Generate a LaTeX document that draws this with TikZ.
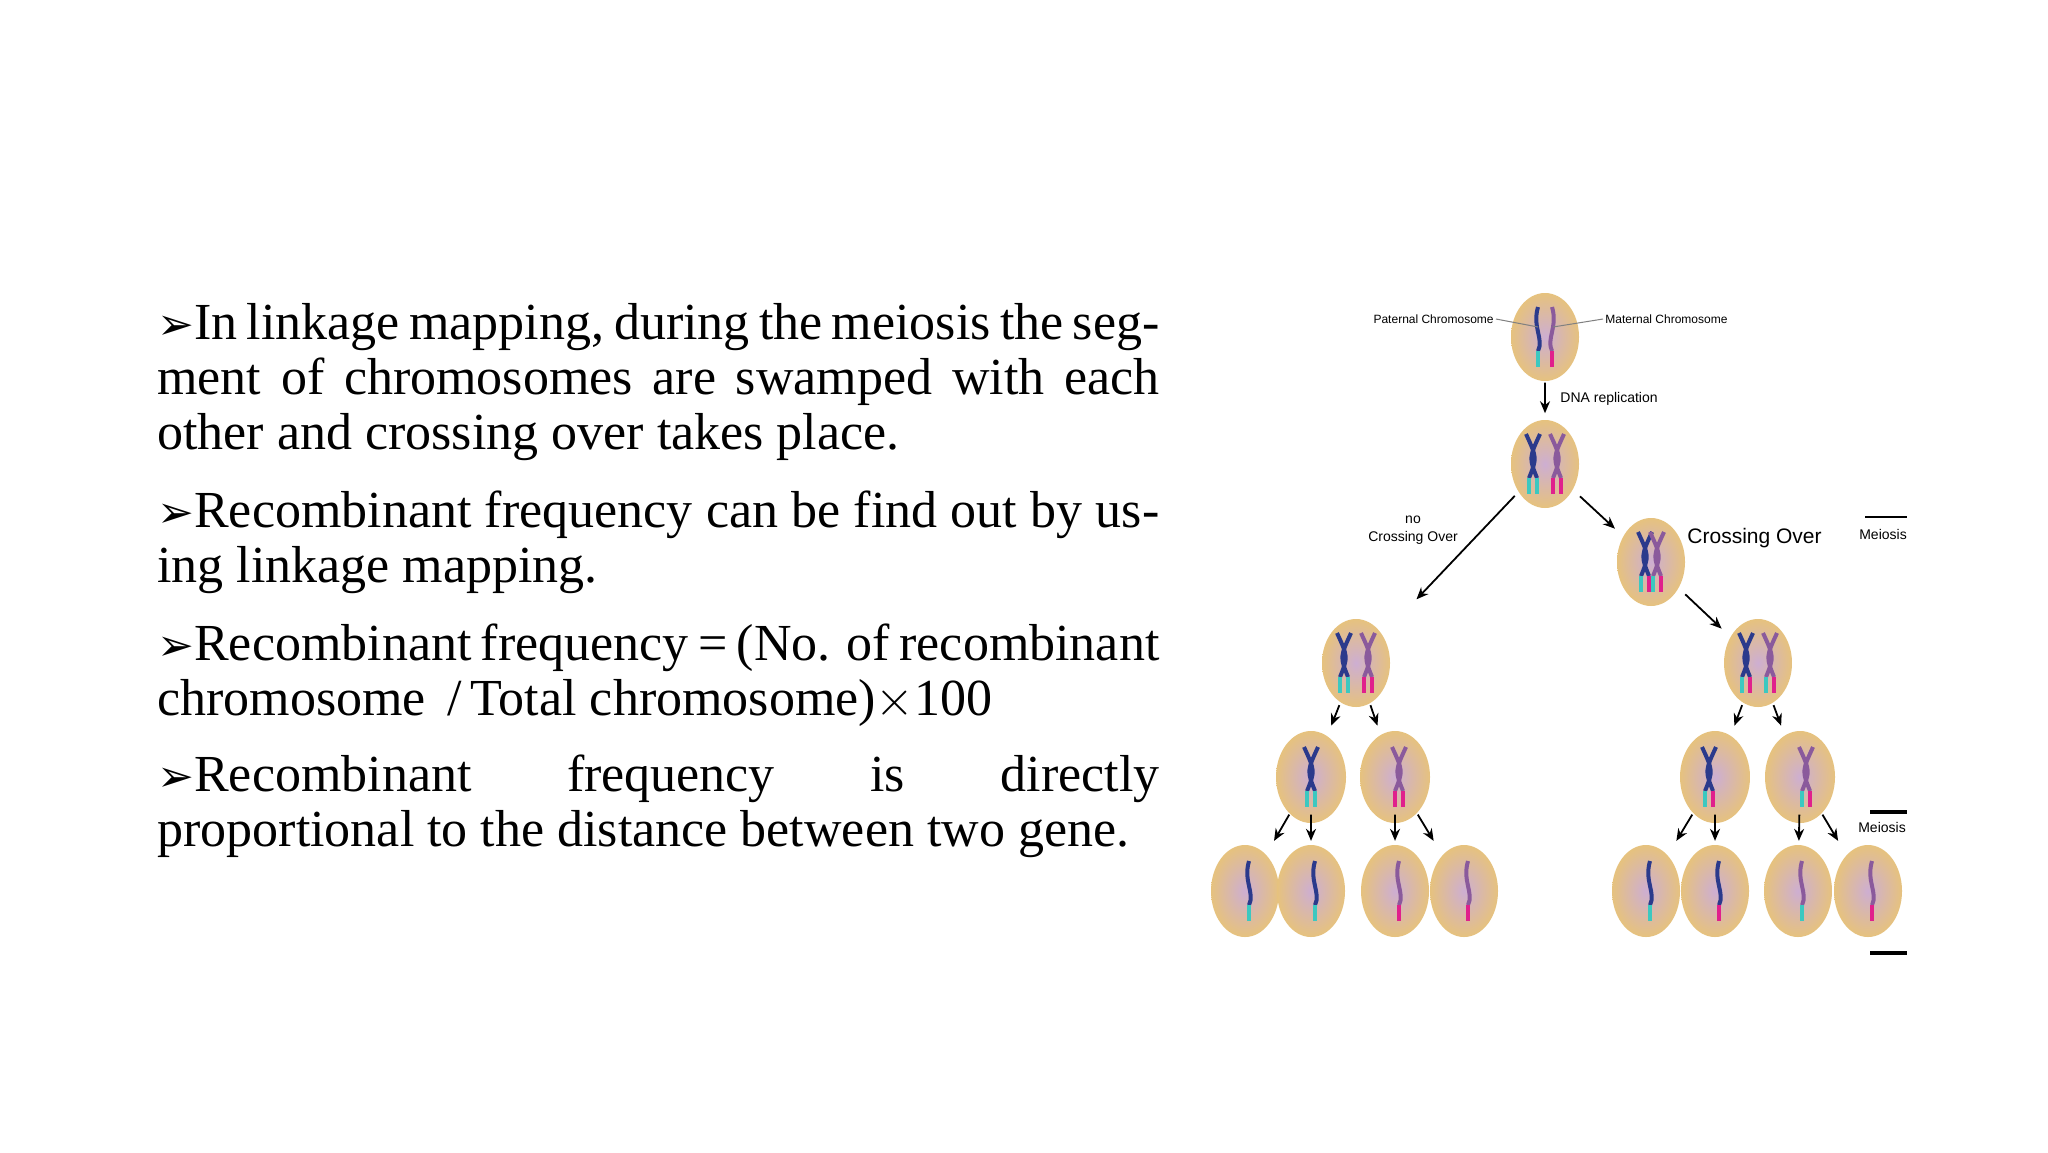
\documentclass[tikz,border=0pt]{standalone}
\usepackage{fontspec}
\setmainfont{Liberation Serif}
\newfontfamily\lsans{Liberation Sans}
\newfontfamily\djv{DejaVu Sans}
\usetikzlibrary{calc,arrows.meta,shapes.geometric}
\definecolor{cblue}{HTML}{2B3A8C}
\definecolor{cpurp}{HTML}{8A5A9C}
\definecolor{ccyan}{HTML}{3CC8C0}
\definecolor{cmag}{HTML}{E0208C}
\definecolor{ctan}{HTML}{E6C27E}
\definecolor{cvio}{HTML}{CDAED2}
\tikzset{
  cell/.style={ellipse,minimum width=34pt,minimum height=44pt,inner sep=0pt,
    inner color=cvio,outer color=ctan,draw=none},
  arr/.style={-{Stealth[length=6pt,width=5pt]},line width=0.9pt},
  para/.style={anchor=north west,text width=501pt,align=justify,inner sep=0pt,
    font=\fontsize{26}{27.5}\selectfont},
  lab/.style={font=\lsans\fontsize{6}{7}\selectfont,inner sep=1pt},
  single/.pic={\draw[#1,line width=2pt] (0,-30) .. controls (-6,-10) and (6,2) .. (0,14);},
  xchr/.pic={\draw[#1,line width=2pt] (-7,-30) .. controls (4,-6) .. (-4,14);
             \draw[#1,line width=2pt] (7,-30) .. controls (-4,-6) .. (4,14);},
  tip/.pic={\draw[#1,line width=2pt] (0,14) -- (0,30);},
}
\newcommand{\bul}{{\djv\fontsize{22}{20}\selectfont ➢}}
\newcommand{\sgl}[4]{\pic at (#1) {single=#2}; \pic at ($(#1)+(0,0)$) {tip=#3};}
\newcommand{\xch}[4]{\pic at (#1) {xchr=#2}; \pic at ($(#1)+(-4,0)$) {tip=#3}; \pic at ($(#1)+(4,0)$) {tip=#4};}
\begin{document}
\begin{tikzpicture}[x=0.5pt,y=-0.5pt]
\useasboundingbox[fill=white] (0,0) rectangle (2048,1152);
% text
\node[para] (p1) at (157,303) {\bul In linkage mapping, during the meiosis the segment of chromosomes are swamped with each other and crossing over takes place.};
\node[para] (p2) at (157,490) {\bul Recombinant frequency can be find out by using linkage mapping.};
\node[para] (p3) at (157,623) {\bul Recombinant frequency = (No. of recombinant\par\raggedright chromosome\, /\,Total chromosome)$\times$100};
\node[para] (p4) at (157,754) {\bul Recombinant\hfill frequency\hfill is\hfill directly\par proportional to the distance between two gene.};
% cells
\node[cell] (c0) at (1545,337) {};
\node[cell] (c1) at (1545,464) {};
\node[cell] (cx) at (1651,562) {};
\node[cell] (l2a) at (1356,663) {};
\node[cell] (l2b) at (1758,663) {};
\foreach \n/\x in {l3a/1311,l3b/1395,l3c/1715,l3d/1800}{\node[cell,minimum width=35pt,minimum height=46pt] (\n) at (\x,777) {};}
\foreach \n/\x in {l4a/1245,l4b/1311,l4c/1395,l4d/1464,l4e/1646,l4f/1715,l4g/1798,l4h/1868}{\node[cell,minimum width=34pt,minimum height=46pt] (\n) at (\x,891) {};}
% chromosomes
\coordinate (k) at ($(c0)+(-7,0)$); \sgl{k}{cblue}{ccyan}{}
\coordinate (k) at ($(c0)+(7,0)$); \pic[xscale=-1] at (k) {single=cpurp}; \pic at (k) {tip=cmag};
\coordinate (k) at ($(c1)+(-12,0)$); \xch{k}{cblue}{ccyan}{ccyan}
\coordinate (k) at ($(c1)+(12,0)$); \xch{k}{cpurp}{cmag}{cmag}
\coordinate (k) at ($(cx)+(-6,0)$); \xch{k}{cblue}{ccyan}{cmag}
\coordinate (k) at ($(cx)+(6,0)$); \xch{k}{cpurp}{ccyan}{cmag}
\coordinate (k) at ($(l2b)+(-12,0)$); \xch{k}{cblue}{ccyan}{cmag}
\coordinate (k) at ($(l2b)+(12,0)$); \xch{k}{cpurp}{ccyan}{cmag}
\coordinate (k) at ($(l2a)+(-12,0)$); \xch{k}{cblue}{ccyan}{ccyan}
\coordinate (k) at ($(l2a)+(12,0)$); \xch{k}{cpurp}{cmag}{cmag}
\coordinate (k) at ($(l3a)+(0,0)$); \xch{k}{cblue}{ccyan}{ccyan}
\coordinate (k) at ($(l3b)+(4,0)$); \xch{k}{cpurp}{cmag}{cmag}
\coordinate (k) at ($(l3c)+(-6,0)$); \xch{k}{cblue}{ccyan}{cmag}
\coordinate (k) at ($(l3d)+(6,0)$); \xch{k}{cpurp}{ccyan}{cmag}
\foreach \c/\b/\t in {l4a/cblue/ccyan,l4b/cblue/ccyan,l4c/cpurp/cmag,l4d/cpurp/cmag,l4e/cblue/ccyan,l4f/cblue/cmag,l4g/cpurp/ccyan,l4h/cpurp/cmag}{
 \coordinate (k) at ($(\c)+(4,0)$); \pic at (k) {single=\b}; \pic at (k) {tip=\t};}
% labels
\node[lab,anchor=east] (pat) at (1496,319) {Paternal Chromosome};
\node[lab,anchor=west] (mat) at (1603,319) {Maternal Chromosome};
\draw[gray,line width=0.5pt] (pat.east) -- ($(c0)+(-7,-10)$);
\draw[gray,line width=0.5pt] (mat.west) -- ($(c0)+(8,-10)$);
\node[lab,anchor=west,font=\lsans\fontsize{7}{8}\selectfont] (dna) at (1558,399) {DNA replication};
\node[lab,align=center,font=\lsans\fontsize{7}{9}\selectfont] (noc) at (1413,530) {no\\Crossing Over};
\node[anchor=west,inner sep=0pt,font=\lsans\fontsize{10.5}{13}\selectfont] (cov) at (1687,538) {Crossing Over};
\node[lab,font=\lsans\fontsize{7}{8}\selectfont] (me1) at (1883,534) {Meiosis};
\node[lab,font=\lsans\fontsize{7}{8}\selectfont] (me2) at (1882,827) {Meiosis};
\coordinate (m3) at (1889,953);
\draw[line width=1.2pt] ($(me1)+(-18,-17)$) -- ($(me1)+(24,-17)$);
\draw[line width=1.8pt] ($(me2)+(-12,-15)$) -- ($(me2)+(25,-15)$);
\draw[line width=1.8pt] ($(m3)+(-19,0)$) -- ($(m3)+(18,0)$);
% arrows
\draw[arr] ($(c0)!0.36!(c1)$) -- ($(c0)!0.6!(c1)$);
\draw[arr] ($(c1)!0.16!(l2a)$) -- ($(c1)!0.68!(l2a)$);
\draw[arr] ($(c1)!0.33!(cx)$) -- ($(c1)!0.66!(cx)$);
\draw[arr] ($(cx)!0.32!(l2b)$) -- ($(cx)!0.66!(l2b)$);
\foreach \a/\b in {l2a/l3a,l2a/l3b,l2b/l3c,l2b/l3d}{\draw[arr] ($(\a)!0.37!(\b)$) -- ($(\a)!0.55!(\b)$);}
\foreach \a/\b in {l3a/l4a,l3a/l4b,l3b/l4c,l3b/l4d,l3c/l4e,l3c/l4f,l3d/l4g,l3d/l4h}{\draw[arr] ($(\a)!0.33!(\b)$) -- ($(\a)!0.56!(\b)$);}
\end{tikzpicture}
\end{document}
